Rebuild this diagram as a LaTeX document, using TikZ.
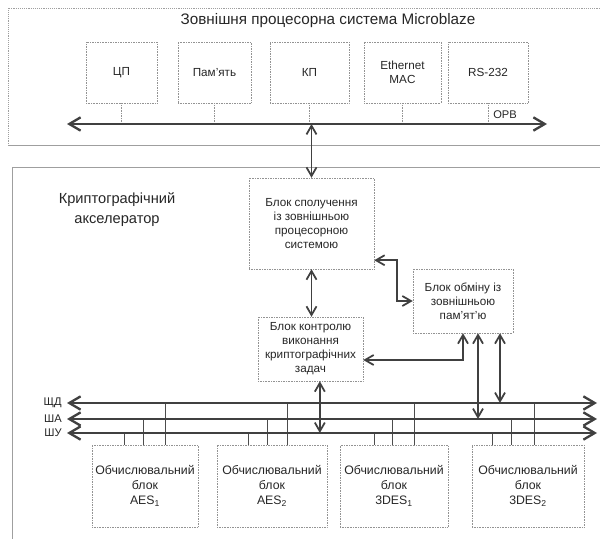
\documentclass[tikz,border=0pt]{standalone}
\usepackage{fontspec}
\setmainfont{Liberation Sans}
\usetikzlibrary{arrows.meta,calc}
\tikzset{
  blok/.style={draw=gray!85, densely dotted, align=center, inner sep=1pt,
    text=black!85, font=\fontsize{10}{12}\selectfont},
  obblok/.style={blok, minimum height=2.46cm, font=\fontsize{10.5}{13}\selectfont},
  shyna/.style={draw=black!75, line width=2pt,
    {Straight Barb[length=3.4mm,width=4mm]}-{Straight Barb[length=3.4mm,width=4mm]}},
  zvjazok/.style={draw=black!75, line width=1.5pt,
    {Straight Barb[length=2.6mm,width=3mm]}-{Straight Barb[length=2.6mm,width=3mm]}},
  vidvid/.style={draw=black!70, line width=1.1pt},
  punktyr/.style={draw=gray!85, densely dotted},
  ramka/.style={draw=gray!75, line width=0.6pt},
  pidpys/.style={font=\fontsize{9.5}{11}\selectfont, text=black!85},
}

\begin{document}
\begin{tikzpicture}[x=0.03cm, y=-0.03cm]
  \useasboundingbox (0,0) rectangle (600,539);

  % --- outer frames ---
  \draw[ramka, densely dotted] (600,8) -- (8,8) -- (8,145);
  \draw[ramka] (8,145) -- (600,145);
  \draw[ramka] (600,167) -- (12,167) -- (12,539);

  % --- external processor system ---
  \node[font=\fontsize{13}{15}\selectfont, text=black!85] (titul) at (328,21) {Зовнішня процесорна система Microblaze};
  \node[blok, minimum width=2.13cm, minimum height=1.83cm] (cp)  at (121.5,72.5) {ЦП};
  \node[blok, minimum width=2.19cm, minimum height=1.83cm] (pam) at (214.5,72.5) {Пам'ять};
  \node[blok, minimum width=2.37cm, minimum height=1.83cm] (kp)  at (309.5,72.5) {КП};
  \node[blok, minimum width=2.31cm, minimum height=1.83cm] (eth) at (402.5,72.5) {Ethernet\\MAC};
  \node[blok, minimum width=2.40cm, minimum height=1.83cm] (rs)  at (488,72.5) {RS-232};
  % OPB bus
  \coordinate (opbL) at (67,124);
  \coordinate (opbR) at (547,124);
  \foreach \b in {cp,pam,kp,eth,rs}
    \draw[punktyr] (\b.south) -- (\b.south |- opbL);
  \draw[shyna] (opbL) -- (opbR);
  \node[pidpys] (opb) at (505,115) {OPB};

  % --- cryptographic accelerator ---
  \node[font=\fontsize{12.5}{17}\selectfont, align=center, text=black!85] (akcel) at (117,210) {Криптографічний\\акселератор};
  \node[blok, minimum width=3.75cm, minimum height=2.73cm] (spol) at (311.5,223.5)
    {Блок сполучення\\із зовнішньою\\процесорною\\системою};
  \node[blok, minimum width=3.0cm, minimum height=1.92cm] (obmin) at (463,301)
    {Блок обміну із\\зовнішньою\\пам'ят'ю};
  \node[blok, minimum width=3.15cm, minimum height=1.92cm] (kontrol) at (310.5,349)
    {Блок контролю\\виконання\\криптографічних\\задач};

  % compute blocks
  \node[obblok, minimum width=3.18cm] (aes1) at (145,486) {Обчислювальний\\блок\\AES\textsubscript{1}};
  \node[obblok, minimum width=3.30cm] (aes2) at (272,486) {Обчислювальний\\блок\\AES\textsubscript{2}};
  \node[obblok, minimum width=3.24cm] (des1) at (394,486) {Обчислювальний\\блок\\3DES\textsubscript{1}};
  \node[obblok, minimum width=3.36cm] (des2) at (528,486) {Обчислювальний\\блок\\3DES\textsubscript{2}};

  % internal buses
  \coordinate (shdL) at (67,403);  \coordinate (shdR) at (597,403);
  \coordinate (shaL) at (67,419);  \coordinate (shaR) at (597,419);
  \coordinate (shuL) at (67,433);  \coordinate (shuR) at (597,433);
  \foreach \blk/\u/\a/\d in {aes1/33/52/74, aes2/32/51/71, des1/35/53/75, des2/21/40/63} {
    \path (\blk.north west) ++(\u,0) coordinate (pu)
          (\blk.north west) ++(\a,0) coordinate (pa)
          (\blk.north west) ++(\d,0) coordinate (pd);
    \draw[vidvid] (pu) -- (pu |- shuL) (pa) -- (pa |- shaL) (pd) -- (pd |- shdL);
  }
  \draw[shyna] (shdL) -- (shdR);
  \draw[shyna] (shaL) -- (shaR);
  \draw[shyna] (shuL) -- (shuR);
  \node[pidpys, left=1pt] (lshd) at (shdL) {ЩД};
  \node[pidpys, left=1pt] (lsha) at (shaL) {ША};
  \node[pidpys, left=1pt] (lshu) at (shuL) {ШУ};

  % --- connectors ---
  \draw[zvjazok] (spol.north |- opbL) -- (spol.north);
  \draw[zvjazok] (spol.south) -- (spol.south |- kontrol.north);
  \draw[zvjazok] ($(spol.south east)+(0,-9)$) -- ++(23,0) |- (obmin.west);
  \draw[zvjazok] (obmin.south) |- ($(kontrol.east)+(0,11)$);
  \path ([xshift=0.28cm]kontrol.south) coordinate (k1)
        ([xshift=0.45cm]obmin.south) coordinate (o1)
        ([xshift=1.11cm]obmin.south) coordinate (o2);
  \draw[zvjazok] (k1) -- (k1 |- shuL);
  \draw[zvjazok] (o1) -- (o1 |- shaL);
  \draw[zvjazok] (o2) -- (o2 |- shdL);
\end{tikzpicture}
\end{document}
